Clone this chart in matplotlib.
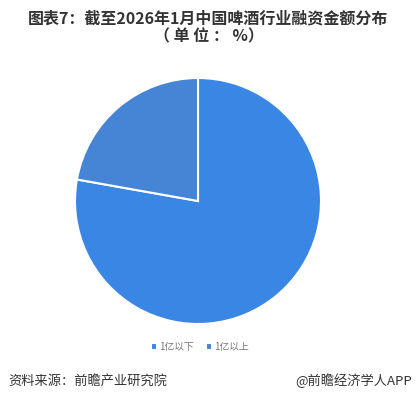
import matplotlib.pyplot as plt

plt.rcParams['font.family'] = ['Noto Sans CJK SC', 'DejaVu Sans']

labels = ["1亿以下", "1亿以上"]
values = [77.8, 22.2]
colors = ["#3a86e4", "#4684d6"]

fig = plt.figure(figsize=(4.17, 4.0), dpi=100)

# pie centred at about (198, 201) px, radius 123 px
cx, cy, r = 198, 201, 123
ax = fig.add_axes([(cx - r) / 417, (400 - cy - r) / 400, 2 * r / 417, 2 * r / 400])
wedges, _ = ax.pie(values, colors=colors, startangle=90, counterclock=False,
                   radius=1, wedgeprops=dict(edgecolor="white", linewidth=1.5))
ax.set_xlim(-1.0, 1.0)
ax.set_ylim(-1.0, 1.0)
ax.set_aspect('equal')
ax.axis('off')

fig.text(0.5, 1 - 18 / 400, "图表7：截至2026年1月中国啤酒行业融资金额分布",
         ha='center', va='center', fontsize=11.5, fontweight='bold', color='#333333')
fig.text(0.5, 1 - 36 / 400, "（ 单 位 ： %）",
         ha='center', va='center', fontsize=11.5, fontweight='bold', color='#333333')

fig.legend(wedges, labels, loc='center', bbox_to_anchor=(200 / 417, 1 - 347 / 400),
           ncol=2, frameon=False, fontsize=7, handlelength=0.6, handleheight=0.6,
           handletextpad=0.3, columnspacing=1.2, labelcolor='#777777')

fig.text(8 / 417, 1 - 381 / 400, "资料来源：前瞻产业研究院",
         ha='left', va='center', fontsize=9.5, color='#333333')
fig.text(412 / 417, 1 - 381 / 400, "@前瞻经济学人APP",
         ha='right', va='center', fontsize=9.5, color='#333333')

fig.savefig("out.png", dpi=100)
